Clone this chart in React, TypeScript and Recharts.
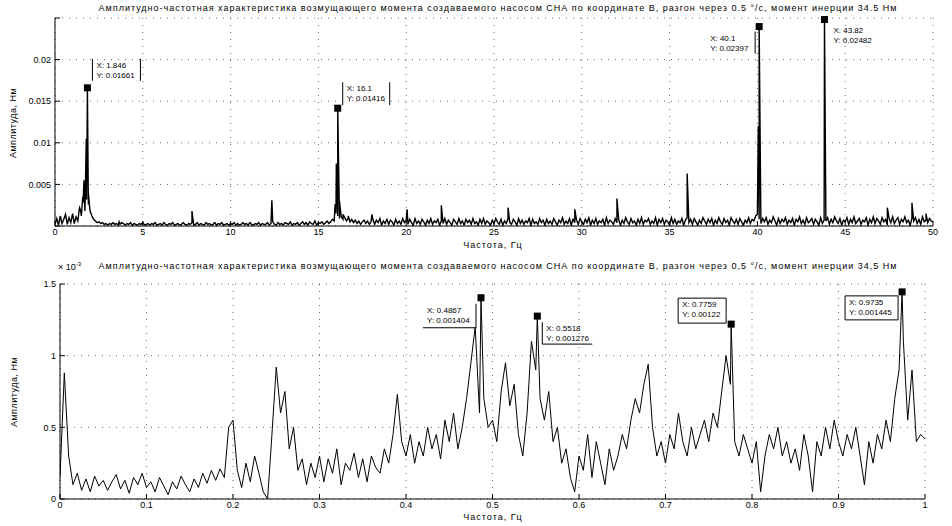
import React from 'react';
import { LineChart, Line, XAxis, YAxis, CartesianGrid, ReferenceDot } from 'recharts';

const TITLE_TOP = 'Амплитудно-частотная характеристика возмущающего момента создаваемого насосом СНА по координате В, разгон через 0.5 °/с, момент инерции 34.5 Нм';
const TITLE_BOTTOM = 'Амплитудно-частотная характеристика возмущающего момента создаваемого насосом СНА по координате В, разгон через 0,5 °/с, момент инерции 34,5 Нм';
const Y_LABEL = 'Амплитуда, Нм';
const X_LABEL = 'Частота, Гц';

const topXTicks = [0, 5, 10, 15, 20, 25, 30, 35, 40, 45, 50];
const topYTicks = [0, 0.005, 0.01, 0.015, 0.02, 0.025];
const botXTicks = [0, 0.1, 0.2, 0.3, 0.4, 0.5, 0.6, 0.7, 0.8, 0.9, 1];
const botYTicks = [0, 0.5, 1, 1.5];

// top spectrum noise floor, sampled every 0.1 Hz, values in 1e-4 N*m
const topStep = 0.1;
const topNoiseE4 = [
  2, 9, 1, 12, 3, 8, 14, 2, 10, 4, 15, 3, 11, 6, 22, 12, 28, 18, 32, 26,
  18, 12, 8, 6, 4, 5, 3, 4, 2, 3, 1, 3, 2, 4, 2, 3, 1, 2, 4, 3,
  1, 3, 2, 4, 1, 3, 2, 1, 3, 2, 4, 1, 2, 3, 1, 3, 2, 4, 1, 2,
  3, 1, 4, 2, 1, 3, 2, 4, 1, 2, 3, 1, 2, 4, 2, 1, 3, 2, 4, 1,
  2, 4, 1, 3, 2, 1, 4, 2, 3, 1, 2, 4, 1, 3, 2, 4, 1, 2, 3, 1,
  3, 2, 4, 1, 3, 1, 2, 4, 2, 3, 1, 4, 2, 1, 3, 2, 4, 1, 3, 2,
  2, 4, 1, 3, 5, 2, 1, 4, 2, 3, 1, 4, 3, 2, 5, 1, 3, 2, 4, 1,
  3, 5, 2, 4, 1, 5, 3, 2, 6, 1, 4, 3, 5, 2, 4, 6, 3, 5, 8, 6,
  15, 12, 9, 11, 8, 10, 6, 9, 5, 8, 4, 7, 3, 6, 2, 5, 7, 3, 6, 2,
  5, 8, 2, 7, 4, 9, 1, 6, 3, 8, 2, 7, 5, 1, 8, 3, 6, 2, 9, 4,
  7, 2, 8, 4, 1, 9, 3, 6, 2, 8, 5, 1, 7, 3, 9, 2, 6, 4, 8, 1,
  6, 3, 9, 2, 7, 4, 1, 8, 5, 2, 9, 3, 6, 1, 8, 4, 7, 2, 9, 3,
  5, 1, 8, 3, 9, 2, 6, 4, 1, 7, 3, 9, 5, 2, 8, 1, 6, 3, 9, 4,
  2, 8, 5, 1, 9, 3, 7, 2, 6, 4, 9, 1, 8, 3, 5, 2, 9, 4, 7, 1,
  8, 3, 6, 2, 9, 5, 1, 7, 4, 10, 2, 6, 3, 9, 1, 8, 4, 7, 2, 9,
  5, 2, 8, 4, 10, 1, 7, 3, 9, 2, 6, 4, 8, 1, 10, 3, 7, 5, 2, 9,
  4, 8, 1, 7, 3, 10, 5, 2, 9, 4, 6, 1, 8, 3, 10, 2, 7, 5, 9, 2,
  6, 3, 10, 1, 8, 4, 9, 2, 7, 5, 1, 10, 3, 8, 2, 6, 4, 9, 1, 7,
  10, 4, 8, 2, 9, 5, 1, 7, 3, 10, 6, 2, 8, 4, 9, 1, 7, 3, 10, 5,
  2, 9, 4, 7, 1, 10, 6, 3, 8, 2, 9, 5, 1, 7, 4, 10, 3, 8, 6, 12,
  14, 8, 3, 9, 5, 10, 2, 7, 4, 11, 6, 1, 9, 3, 8, 5, 10, 2, 7, 4,
  9, 1, 8, 5, 11, 3, 7, 2, 10, 4, 6, 9, 2, 8, 5, 1, 10, 3, 7, 6,
  10, 2, 8, 4, 11, 6, 3, 9, 1, 7, 5, 10, 2, 8, 4, 11, 3, 6, 9, 2,
  7, 5, 10, 1, 8, 4, 11, 3, 9, 6, 2, 10, 5, 8, 1, 9, 4, 11, 3, 7,
  10, 2, 8, 5, 11, 4, 7, 1, 9, 6, 10, 3, 8, 2, 11, 5, 7, 4, 9, 6,
  5,
];
const topSpikeFreq = [1.38, 1.46, 1.58, 1.65, 1.72, 1.78, 1.9, 1.96, 2.05, 3.65, 7.8, 12.35, 15.95, 16.02, 16.2, 16.4, 16.7, 18.05, 20.05, 22.0, 25.8, 29.6, 32.0, 36.0, 40.05, 47.4, 48.8, 49.6];
const topSpikeAmp = [0.002, 0.0018, 0.0035, 0.0055, 0.003, 0.0105, 0.004, 0.0025, 0.0015, 0.0005, 0.0018, 0.0031, 0.0026, 0.0075, 0.003, 0.0014, 0.0012, 0.0014, 0.002, 0.0025, 0.0022, 0.002, 0.0033, 0.0063, 0.012, 0.0022, 0.0028, 0.0015];
const topTipFreq = [1.846, 16.1, 40.1, 43.82];
const topTipAmp = [0.01661, 0.01416, 0.02397, 0.02482];

// bottom zoomed spectrum, sampled every 0.005 Hz, values in 1e-3 N*m
const botStep = 0.005;
const botValuesE3 = [
  0.15, 0.88, 0.30, 0.10, 0.18, 0.06, 0.14, 0.05, 0.16, 0.09,
  0.13, 0.06, 0.12, 0.17, 0.07, 0.13, 0.04, 0.15, 0.10, 0.18,
  0.08, 0.12, 0.05, 0.15, 0.09, 0.03, 0.12, 0.07, 0.16, 0.10,
  0.05, 0.14, 0.08, 0.18, 0.11, 0.20, 0.13, 0.21, 0.15, 0.50,
  0.55, 0.20, 0.08, 0.25, 0.12, 0.30, 0.18, 0.05, 0.00, 0.45,
  0.92, 0.60, 0.75, 0.35, 0.50, 0.20, 0.28, 0.10, 0.25, 0.15,
  0.30, 0.12, 0.28, 0.18, 0.35, 0.10, 0.25, 0.20, 0.32, 0.15,
  0.28, 0.12, 0.30, 0.22, 0.18, 0.35, 0.25, 0.45, 0.73, 0.40,
  0.30, 0.45, 0.25, 0.40, 0.30, 0.50, 0.35, 0.45, 0.28, 0.55,
  0.40, 0.60, 0.35, 0.50, 0.70, 0.95, 1.20, 0.60, 0.70, 0.50,
  0.55, 0.40, 0.75, 0.95, 0.65, 0.80, 0.45, 0.30, 0.60, 1.10,
  0.90, 0.70, 0.55, 0.75, 0.40, 0.50, 0.25, 0.35, 0.15, 0.05,
  0.30, 0.20, 0.45, 0.15, 0.40, 0.25, 0.10, 0.35, 0.20, 0.30,
  0.45, 0.35, 0.55, 0.70, 0.60, 0.80, 0.94, 0.50, 0.30, 0.40,
  0.25, 0.45, 0.35, 0.60, 0.40, 0.30, 0.50, 0.35, 0.45, 0.55,
  0.40, 0.60, 0.50, 0.75, 1.00, 0.80, 0.40, 0.30, 0.45, 0.35,
  0.25, 0.40, 0.05, 0.30, 0.45, 0.35, 0.50, 0.30, 0.40, 0.25,
  0.35, 0.20, 0.45, 0.30, 0.05, 0.40, 0.30, 0.50, 0.35, 0.55,
  0.40, 0.30, 0.45, 0.35, 0.50, 0.30, 0.10, 0.40, 0.25, 0.45,
  0.35, 0.55, 0.40, 0.70, 0.90, 1.10, 0.55, 0.90, 0.40, 0.45,
  0.42,
];
const botTipFreq = [0.4867, 0.5518, 0.7759, 0.9735];
const botTipAmp = [0.001404, 0.001276, 0.00122, 0.001445];

const topData = [
  ...topNoiseE4.map((v, i) => ({ f: +(i * topStep).toFixed(4), a: v * 1e-4 })),
  ...topSpikeFreq.map((f, i) => ({ f, a: topSpikeAmp[i] })),
  ...topTipFreq.map((f, i) => ({ f, a: topTipAmp[i] })),
].sort((p, q) => p.f - q.f);

const botData = [
  ...botValuesE3.map((v, i) => ({ f: +(i * botStep).toFixed(4), a: v })),
  ...botTipFreq.map((f, i) => ({ f, a: botTipAmp[i] * 1e3 })),
].sort((p, q) => p.f - q.f);

// datatip box styles (offsets relative to the marker)
type Box = { dx: number; dy: number; w: number; h: number; sides: string };
const topTipBoxes: Box[] = [
  { dx: 5, dy: -29, w: 48, h: 22, sides: 'lr' },
  { dx: 5, dy: -26, w: 47, h: 23, sides: 'lr' },
  { dx: -53, dy: 5, w: 49, h: 22, sides: 'r' },
  { dx: 5, dy: 5, w: 48, h: 22, sides: '' },
];
const botTipBoxes: Box[] = [
  { dx: -58, dy: 6, w: 53, h: 24, sides: 'rb' },
  { dx: 5, dy: 6, w: 50, h: 22, sides: 'lb' },
  { dx: -53, dy: -26, w: 48, h: 25, sides: 'lrtb' },
  { dx: -57, dy: 4, w: 53, h: 24, sides: 'lrtb' },
];

const FONT = 'Liberation Sans, Arial, sans-serif';

function tipShape(box: Box, xText: string, yText: string) {
  return (props: any) => {
    const { cx, cy } = props;
    const x0 = cx + box.dx;
    const y0 = cy + box.dy;
    const x1 = x0 + box.w;
    const y1 = y0 + box.h;
    return (
      <g>
        {box.sides.length === 4 && <rect x={x0} y={y0} width={box.w} height={box.h} fill="#fff" />}
        {box.sides.includes('l') && <line x1={x0} y1={y0} x2={x0} y2={y1} stroke="#000" />}
        {box.sides.includes('r') && <line x1={x1} y1={y0} x2={x1} y2={y1} stroke="#000" />}
        {box.sides.includes('t') && <line x1={x0} y1={y0} x2={x1} y2={y0} stroke="#000" />}
        {box.sides.includes('b') && <line x1={x0} y1={y1} x2={x1} y2={y1} stroke="#000" />}
        <text x={x0 + 4} y={y0 + 9} fontSize={8} fontFamily={FONT} fill="#000">{xText}</text>
        <text x={x0 + 4} y={y0 + 19} fontSize={8} fontFamily={FONT} fill="#000">{yText}</text>
        <rect x={cx - 3.5} y={cy - 3.5} width={7} height={7} fill="#000" />
      </g>
    );
  };
}

const tickStyle = { fontSize: 9, fontFamily: FONT, fill: '#000' };

const textStyle: React.CSSProperties = {
  position: 'absolute',
  fontFamily: FONT,
  fontSize: 9,
  color: '#000',
  whiteSpace: 'nowrap',
  lineHeight: '10px',
};

export default function App() {
  return (
    <div style={{ position: 'fixed', left: 0, top: 0, width: 952, height: 526, background: '#fff', overflow: 'hidden' }}>
      <div style={{ position: 'absolute', left: 0, top: 0 }}>
        <LineChart width={952} height={263} data={topData} margin={{ top: 18, right: 19, left: 0, bottom: 0 }}>
          <CartesianGrid stroke="#000" strokeDasharray="1 6" strokeWidth={0.6} />
          <XAxis dataKey="f" type="number" domain={[0, 50]} ticks={topXTicks} interval={0} height={37}
            tickSize={-5} tickMargin={8} stroke="#000" tick={tickStyle} allowDataOverflow />
          <XAxis xAxisId="t" orientation="top" type="number" domain={[0, 50]} ticks={topXTicks} interval={0} height={0}
            tickSize={-5} tick={false} stroke="#000" allowDataOverflow />
          <YAxis type="number" domain={[0, 0.025]} ticks={topYTicks} interval={0} width={55}
            tickSize={-5} tickMargin={9} stroke="#000" tick={tickStyle}
            tickFormatter={(v: number) => (v === 0 || v === 0.025 ? '' : String(v))} allowDataOverflow />
          <YAxis yAxisId="r" orientation="right" type="number" domain={[0, 0.025]} ticks={topYTicks} interval={0} width={0}
            tickSize={-5} tick={false} stroke="#000" allowDataOverflow />
          <Line dataKey="a" stroke="#000" strokeWidth={1.4} dot={false} isAnimationActive={false} type="linear" />
          {topTipFreq.map((f, i) => (
            <ReferenceDot key={'tt' + i} x={f} y={topTipAmp[i]} r={3} ifOverflow="visible"
              shape={tipShape(topTipBoxes[i], 'X: ' + f, 'Y: ' + topTipAmp[i])} />
          ))}
        </LineChart>
      </div>
      <div style={{ position: 'absolute', left: 0, top: 263 }}>
        <LineChart width={952} height={263} data={botData} margin={{ top: 21, right: 27, left: 0, bottom: 0 }}>
          <CartesianGrid stroke="#000" strokeDasharray="1 6" strokeWidth={0.6} />
          <XAxis dataKey="f" type="number" domain={[0, 1]} ticks={botXTicks} interval={0} height={27}
            tickSize={-5} tickMargin={8} stroke="#000" tick={tickStyle} allowDataOverflow />
          <XAxis xAxisId="t" orientation="top" type="number" domain={[0, 1]} ticks={botXTicks} interval={0} height={0}
            tickSize={-5} tick={false} stroke="#000" allowDataOverflow />
          <YAxis type="number" domain={[0, 1.5]} ticks={botYTicks} interval={0} width={60}
            tickSize={-5} tickMargin={9} stroke="#000" tick={tickStyle} allowDataOverflow />
          <YAxis yAxisId="r" orientation="right" type="number" domain={[0, 1.5]} ticks={botYTicks} interval={0} width={0}
            tickSize={-5} tick={false} stroke="#000" allowDataOverflow />
          <Line dataKey="a" stroke="#000" strokeWidth={1} dot={false} isAnimationActive={false} type="linear" />
          {botTipFreq.map((f, i) => (
            <ReferenceDot key={'bt' + i} x={f} y={botTipAmp[i] * 1e3} r={3} ifOverflow="visible"
              shape={tipShape(botTipBoxes[i], 'X: ' + f, 'Y: ' + botTipAmp[i])} />
          ))}
        </LineChart>
      </div>

      <div style={{ ...textStyle, left: 0, width: 996, top: 3, textAlign: 'center', letterSpacing: 1 }}>{TITLE_TOP}</div>
      <div style={{ ...textStyle, left: 0, width: 996, top: 261, textAlign: 'center', letterSpacing: 1 }}>{TITLE_BOTTOM}</div>
      <div style={{ ...textStyle, left: 0, width: 986, top: 240, textAlign: 'center', letterSpacing: 1 }}>{X_LABEL}</div>
      <div style={{ ...textStyle, left: 0, width: 986, top: 512, textAlign: 'center', letterSpacing: 1 }}>{X_LABEL}</div>
      <div style={{ ...textStyle, left: 13 - 50, width: 100, top: 118, textAlign: 'center', transform: 'rotate(-90deg)', letterSpacing: 0.5 }}>{Y_LABEL}</div>
      <div style={{ ...textStyle, left: 14 - 50, width: 100, top: 387, textAlign: 'center', transform: 'rotate(-90deg)', letterSpacing: 0.5 }}>{Y_LABEL}</div>
      <div style={{ ...textStyle, left: 58, top: 262 }}>
        × 10<sup style={{ fontSize: 6, verticalAlign: 'top', position: 'relative', top: -3 }}>-3</sup>
      </div>
    </div>
  );
}
